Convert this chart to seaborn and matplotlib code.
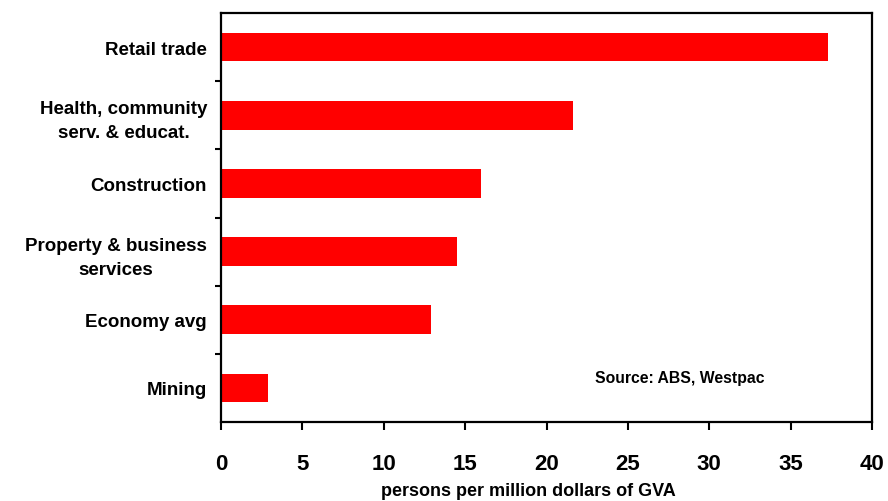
import matplotlib
matplotlib.use("Agg")
import matplotlib.pyplot as plt
import seaborn as sns
import pandas as pd
from matplotlib.ticker import FixedLocator, NullFormatter

# Employment intensity by industry
categories = [
    "Retail trade",
    "Health, community\nserv. & educat.",
    "Construction",
    "Property & business\nservices",
    "Economy avg",
    "Mining",
]
persons_per_million = [37.3, 21.6, 16.0, 14.5, 12.9, 2.9]
x_ticks = [0, 5, 10, 15, 20, 25, 30, 35, 40]
x_title = "persons per million dollars of GVA"
source_note = "Source: ABS, Westpac"

df = pd.DataFrame({"industry": categories, "value": persons_per_million})

sns.set_theme(style="white")
plt.rcParams["font.family"] = ["Liberation Sans", "DejaVu Sans"]
plt.rcParams["font.weight"] = "bold"
for key in ["text.color", "axes.labelcolor", "xtick.color", "ytick.color"]:
    plt.rcParams[key] = "black"

fig = plt.figure(figsize=(8.88, 5.02), dpi=100)
ax = fig.add_axes([221 / 888, 1 - 423 / 502, 651 / 888, 409 / 502])

sns.barplot(data=df, x="value", y="industry", orient="h", color="#ff0000",
            saturation=1, width=0.42, ax=ax, edgecolor="none")

ax.set_xlim(0, 40)
ax.set_ylim(len(categories) - 0.5, -0.5)
ax.set_xticks(x_ticks)
ax.set_xticklabels([str(t) for t in x_ticks], fontsize=16, fontweight="bold",
                   color="black")

# Category labels without marks; separators drawn as minor ticks between bars
ax.tick_params(axis="y", which="major", length=0, pad=10, labelsize=13.5,
               labelcolor="black")
for lbl in ax.get_yticklabels():
    lbl.set_fontweight("bold")
    lbl.set_multialignment("center")
    lbl.set_linespacing(1.55)
ax.yaxis.set_minor_locator(FixedLocator([i + 0.5 for i in range(len(categories) - 1)]))
ax.yaxis.set_minor_formatter(NullFormatter())
ax.tick_params(axis="y", which="minor", left=True, length=4, width=1.5,
               color="black", direction="out")
ax.tick_params(axis="x", which="major", bottom=True, length=5.5, width=1.5,
               color="black", direction="out", pad=17, labelcolor="black")

for side in ["left", "right", "top", "bottom"]:
    ax.spines[side].set_visible(True)
    ax.spines[side].set_color("black")
    ax.spines[side].set_linewidth(1.6)

ax.set_ylabel("")
ax.set_xlabel(x_title, fontsize=13, fontweight="bold", color="black")
ax.xaxis.label.set_va("center")
ax.xaxis.set_label_coords(0.472, -(491 - 423) / 409)

ax.text(0.705, 0.11, source_note, transform=ax.transAxes, ha="center",
        va="center", fontsize=11.3, fontweight="bold", color="black")

fig.savefig("out.png", dpi=100, facecolor="white")
